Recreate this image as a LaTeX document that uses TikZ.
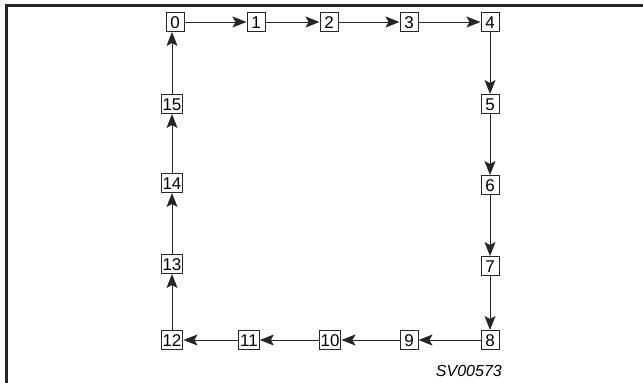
\documentclass[tikz,border=0pt]{standalone}
\usepackage{fontspec}
\setmainfont{Liberation Sans}
\usetikzlibrary{arrows.meta}
\begin{document}
\begin{tikzpicture}[x=1pt,y=-1pt,
  cell/.style={draw=black!85,line width=1pt,fill=white,font=\fontsize{17}{17}\selectfont,
    inner sep=1.5pt,minimum width=18pt,minimum height=19pt,text height=12pt,text depth=0pt},
  conn/.style={line width=1pt,draw=black!85,-{Stealth[length=14pt,width=11pt,inset=3pt]}},
  frame/.style={line width=3pt,draw=black!85}]
\useasboundingbox (0,0) rectangle (643,383);
\draw[frame] (6,383) -- (6,5) -- (643,5);
\node[cell] (n0) at (175,22) {0};
\node[cell] (n1) at (256,22) {1};
\node[cell] (n2) at (329,22) {2};
\node[cell] (n3) at (409,22) {3};
\node[cell] (n4) at (490,22) {4};
\node[cell] (n5) at (490,104) {5};
\node[cell] (n6) at (490,185) {6};
\node[cell] (n7) at (490,266) {7};
\node[cell] (n8) at (490,340) {8};
\node[cell] (n9) at (409,340) {9};
\node[cell] (n10) at (330,340) {10};
\node[cell] (n11) at (249,340) {11};
\node[cell] (n12) at (172,340) {12};
\node[cell] (n13) at (172,264) {13};
\node[cell] (n14) at (172,183) {14};
\node[cell] (n15) at (172,104) {15};
\draw[conn] (n0) -- (n1);
\draw[conn] (n1) -- (n2);
\draw[conn] (n2) -- (n3);
\draw[conn] (n3) -- (n4);
\draw[conn] (n4) -- (n5);
\draw[conn] (n5) -- (n6);
\draw[conn] (n6) -- (n7);
\draw[conn] (n7) -- (n8);
\draw[conn] (n8) -- (n9);
\draw[conn] (n9) -- (n10);
\draw[conn] (n10) -- (n11);
\draw[conn] (n11) -- (n12);
\draw[conn] (n12) -- (n13);
\draw[conn] (n13) -- (n14);
\draw[conn] (n14) -- (n15);
\draw[conn] (n15.north) -- (n15.north |- n0.south);
\node[font=\fontsize{16}{16}\selectfont\itshape,anchor=east,inner sep=0pt] (lbl) at (502,371) {SV00573};
\end{tikzpicture}
\end{document}
